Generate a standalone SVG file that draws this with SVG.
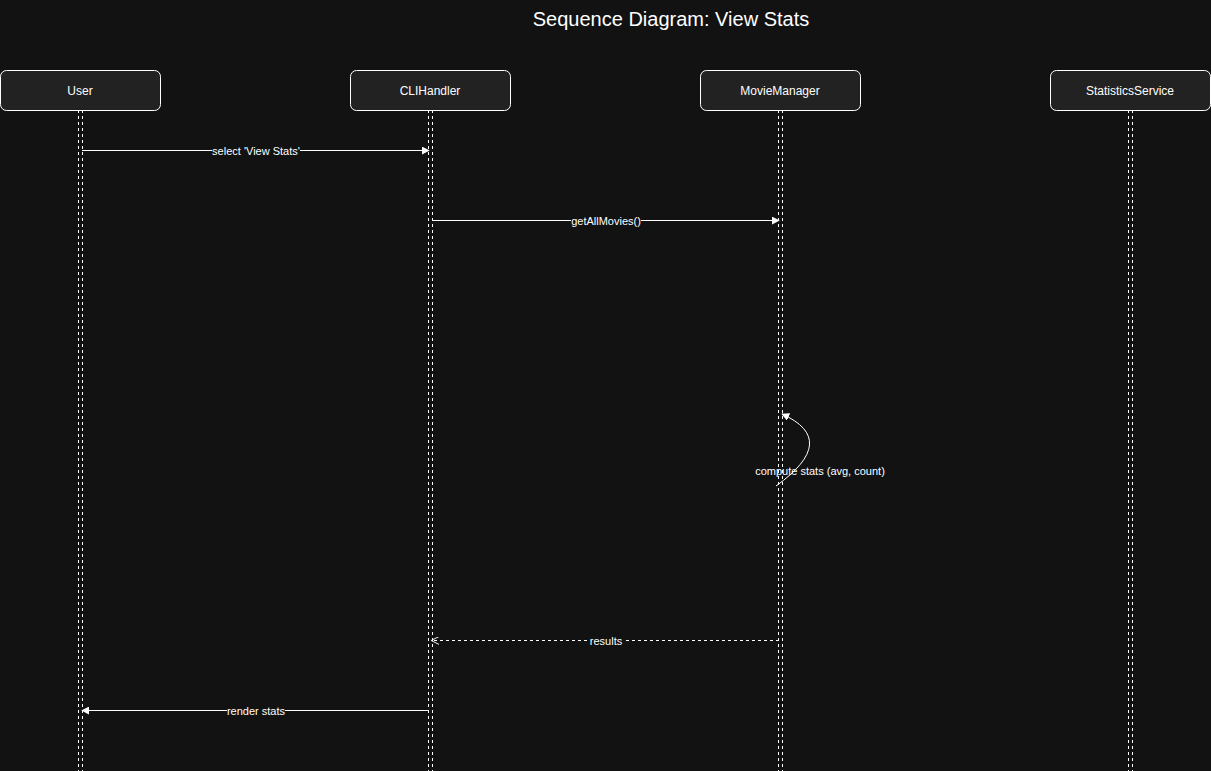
<svg xmlns="http://www.w3.org/2000/svg" width="1211" height="771" viewBox="0 0 1211 771">
<style>
.bg{fill:#121212}
.box{fill:#222222;stroke:#ffffff;stroke-width:1}
.name{font-family:"Liberation Sans",Arial,sans-serif;font-size:12px;fill:#ffffff;text-anchor:middle}
.life{stroke:#ffffff;stroke-width:1;stroke-dasharray:3,3;fill:none}
.msg{stroke:#ffffff;stroke-width:1;fill:none}
.ret{stroke:#ffffff;stroke-width:1;fill:none;stroke-dasharray:3,3}
.lbl{font-family:"Liberation Sans",Arial,sans-serif;font-size:11px;fill:#ffffff;text-anchor:middle}
.lblbg{fill:#121212}
.title{font-family:"Liberation Sans",Arial,sans-serif;font-size:20px;fill:#ffffff;text-anchor:middle}
</style>
<defs>
<marker id="solid" viewBox="0 0 10 10" refX="9" refY="5" markerWidth="8" markerHeight="8" orient="auto-start-reverse" markerUnits="userSpaceOnUse">
<path d="M0,0 L10,5 L0,10 z" fill="#ffffff"/>
</marker>
<marker id="open" viewBox="0 0 10 10" refX="9" refY="5" markerWidth="8" markerHeight="8" orient="auto-start-reverse" markerUnits="userSpaceOnUse">
<path d="M0,0 L10,5 L0,10" fill="none" stroke="#ffffff" stroke-width="1.2"/>
</marker>
</defs>
<rect class="bg" x="0" y="0" width="1211" height="771"/>
<text class="title" x="671" y="26">Sequence Diagram: View Stats</text>

<g id="lifelines">
<line class="life" x1="78.5" y1="110" x2="78.5" y2="771"/>
<line class="life" x1="82.5" y1="110" x2="82.5" y2="771"/>
<line class="life" x1="428.5" y1="110" x2="428.5" y2="771"/>
<line class="life" x1="432.5" y1="110" x2="432.5" y2="771"/>
<line class="life" x1="778.5" y1="110" x2="778.5" y2="771"/>
<line class="life" x1="782.5" y1="110" x2="782.5" y2="771"/>
<line class="life" x1="1128.5" y1="110" x2="1128.5" y2="771"/>
<line class="life" x1="1132.5" y1="110" x2="1132.5" y2="771"/>
</g>

<g id="user"><rect class="box" x="0.5" y="70.5" width="160" height="40" rx="6"/><text class="name" x="80" y="95">User</text></g>
<g id="clihandler"><rect class="box" x="350.5" y="70.5" width="160" height="40" rx="6"/><text class="name" x="430" y="95">CLIHandler</text></g>
<g id="moviemanager"><rect class="box" x="700.5" y="70.5" width="160" height="40" rx="6"/><text class="name" x="780" y="95">MovieManager</text></g>
<g id="statisticsservice"><rect class="box" x="1050.5" y="70.5" width="160" height="40" rx="6"/><text class="name" x="1130" y="95">StatisticsService</text></g>

<g id="connectors">
<line class="msg" x1="82" y1="150.5" x2="429" y2="150.5" marker-end="url(#solid)"/>
<rect class="lblbg" x="212" y="145" width="88" height="12"/>
<text class="lbl" x="256" y="155">select 'View Stats'</text>

<line class="msg" x1="432" y1="220.5" x2="779" y2="220.5" marker-end="url(#solid)"/>
<rect class="lblbg" x="571" y="215" width="70" height="12"/>
<text class="lbl" x="606" y="225">getAllMovies()</text>

<path class="msg" d="M776,486 Q840,440 782,414" marker-end="url(#solid)"/>
<text class="lbl" x="820" y="475">compute stats (avg, count)</text>

<line class="ret" x1="779" y1="640.5" x2="432" y2="640.5" marker-end="url(#open)"/>
<rect class="lblbg" x="589" y="635" width="34" height="12"/>
<text class="lbl" x="606" y="645">results</text>

<line class="msg" x1="429" y1="710.5" x2="82" y2="710.5" marker-end="url(#solid)"/>
<rect class="lblbg" x="227" y="705" width="58" height="12"/>
<text class="lbl" x="256" y="715">render stats</text>
</g>
</svg>
